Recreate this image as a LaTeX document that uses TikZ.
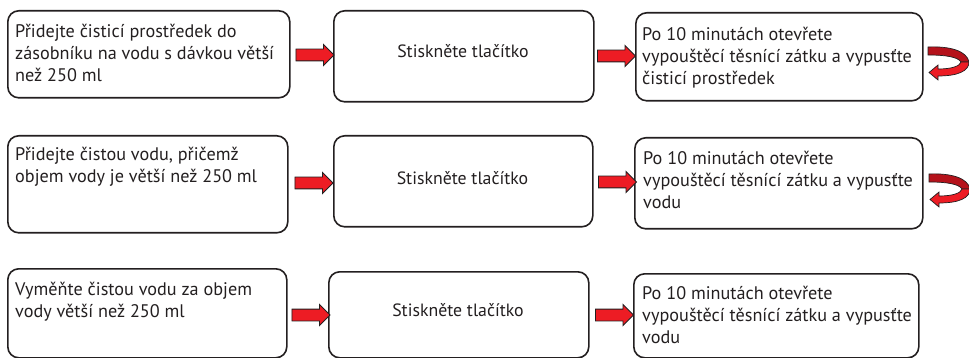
\documentclass[tikz,border=0pt]{standalone}
\usepackage{fontspec}
\setmainfont{PT Sans}
\usetikzlibrary{shapes.arrows,calc}
\definecolor{ink}{HTML}{231F20}
\definecolor{arred}{HTML}{ED1C24}
\definecolor{arback}{HTML}{B5121B}
\tikzset{
  box/.style={draw=ink, line width=1.6pt, rounded corners=11pt, anchor=north west, inner sep=0pt},
  txt/.style={anchor=north west, inner sep=0pt, align=left, text=ink, font=\fontsize{18.2}{22}\selectfont},
  midtxt/.style={inner sep=0pt, text=ink, font=\fontsize{17.8}{22}\selectfont},
  redarr/.style={single arrow, draw=ink, fill=arred, line width=0.9pt, minimum height=38pt,
    inner sep=5.5pt, single arrow head extend=4.5pt},
  uback/.style={draw=ink, line width=0.7pt, fill=arback},
  ufront/.style={draw=ink, line width=0.7pt, fill=arred}
}
\newcommand\uturnarrow[2]{%
  \begin{scope}[shift={(#1,#2)}]
    \path[uback] (0,-1) .. controls (22,-2) and (39,3) .. (41,14) -- (33,14)
      .. controls (30,9) and (18,7) .. (0,7) -- cycle;
    \path[ufront] (41,14) .. controls (41,23) and (30,28) .. (10,28) -- (10,32) -- (1,24.5)
      -- (10,17) -- (10,21) .. controls (24,21) and (32,18) .. (33,14) -- cycle;
  \end{scope}}
\begin{document}
\begin{tikzpicture}[x=1pt,y=-1pt]
\useasboundingbox (0,0) rectangle (969,358);
% row 1
\node[box, minimum width=282pt, minimum height=87pt] (a1) at (7,10) {};
\node[box, minimum width=260pt, minimum height=91pt] (b1) at (333,10) {};
\node[box, minimum width=287pt, minimum height=88pt] (c1) at (635,12) {};
\node[txt] (ta1) at (15,22) {\strut Přidejte čisticí prostředek do\\zásobníku na vodu s dávkou větší\\než 250 ml};
\node[midtxt] (tb1) at (463,51) {Stiskněte tlačítko};
\node[txt] (tc1) at (642,25) {\strut Po 10 minutách otevřete\\vypouštěcí těsnící zátku a vypusťte\\čisticí prostředek};
\node[redarr] (r11) at (312,55) {};
\node[redarr] (r12) at (613.5,56) {};
\uturnarrow{928}{48}
% row 2
\node[box, minimum width=280pt, minimum height=97pt] (a2) at (7,135) {};
\node[box, minimum width=259pt, minimum height=91pt] (b2) at (333,135) {};
\node[box, minimum width=288pt, minimum height=91pt] (c2) at (634,137) {};
\node[txt] (ta2) at (15,145) {\strut Přidejte čistou vodu, přičemž\\objem vody je větší než 250 ml};
\node[midtxt] (tb2) at (462.5,178) {Stiskněte tlačítko};
\node[txt] (tc2) at (643,149) {\strut Po 10 minutách otevřete\\vypouštěcí těsnící zátku a vypusťte\\vodu};
\node[redarr] (r21) at (311,183) {};
\node[redarr] (r22) at (614.5,182) {};
\uturnarrow{929}{175}
% row 3
\node[box, minimum width=279pt, minimum height=89pt] (a3) at (7,268) {};
\node[box, minimum width=260pt, minimum height=86pt] (b3) at (328,271) {};
\node[box, minimum width=285pt, minimum height=84pt] (c3) at (633,273) {};
\node[txt] (ta3) at (15,280) {\strut Vyměňte čistou vodu za objem\\vody větší než 250 ml};
\node[midtxt] (tb3) at (458,310) {Stiskněte tlačítko};
\node[txt] (tc3) at (642,284) {\strut Po 10 minutách otevřete\\vypouštěcí těsnící zátku a vypusťte\\vodu};
\node[redarr] (r31) at (308,315) {};
\node[redarr] (r32) at (611.5,315) {};
\end{tikzpicture}
\end{document}
